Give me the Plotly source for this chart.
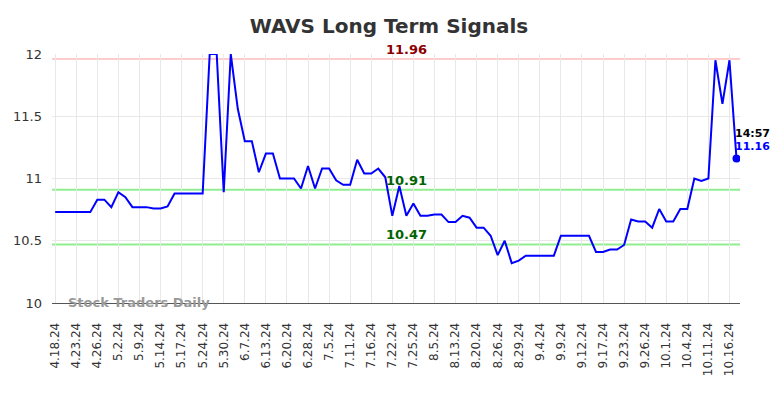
import plotly.graph_objects as go

tick_labels = ["4.18.24", "4.23.24", "4.26.24", "5.2.24", "5.9.24", "5.14.24", "5.17.24",
               "5.24.24", "5.30.24", "6.7.24", "6.13.24", "6.20.24", "6.28.24", "7.5.24",
               "7.11.24", "7.16.24", "7.22.24", "7.25.24", "8.5.24", "8.13.24", "8.20.24",
               "8.26.24", "8.29.24", "9.4.24", "9.9.24", "9.12.24", "9.17.24", "9.23.24",
               "9.26.24", "10.1.24", "10.4.24", "10.11.24", "10.16.24"]
tick_step = 3

values = [10.73, 10.73, 10.73, 10.73, 10.73, 10.73, 10.83, 10.83, 10.77, 10.89,
          10.85, 10.77, 10.77, 10.77, 10.76, 10.76, 10.775, 10.88, 10.88, 10.88,
          10.88, 10.88, 12.0, 12.0, 10.89, 12.0, 11.56, 11.30, 11.30, 11.05,
          11.20, 11.20, 11.00, 11.00, 11.00, 10.92, 11.10, 10.92, 11.08, 11.08,
          10.985, 10.95, 10.95, 11.15, 11.04, 11.04, 11.08, 11.01, 10.70, 10.94,
          10.70, 10.80, 10.70, 10.70, 10.71, 10.71, 10.65, 10.65, 10.70, 10.685,
          10.605, 10.605, 10.54, 10.385, 10.50, 10.32, 10.34, 10.38, 10.38, 10.38,
          10.38, 10.38, 10.54, 10.54, 10.54, 10.54, 10.54, 10.41, 10.41, 10.43,
          10.43, 10.466, 10.67, 10.655, 10.655, 10.605, 10.755, 10.655, 10.655, 10.755,
          10.755, 11.00, 10.98, 11.00, 11.95, 11.60, 11.95, 11.16]

resistance = 11.96
supports = [10.91, 10.47]
last_time = "14:57"
label_x = 50

x = list(range(len(values)))
tickvals = [i * tick_step for i in range(len(tick_labels))]

fig = go.Figure()
fig.add_trace(go.Scatter(x=x, y=values, mode="lines",
                         line=dict(color="#0000ff", width=2), hoverinfo="skip"))
fig.add_trace(go.Scatter(x=[x[-1]], y=[values[-1]], mode="markers",
                         marker=dict(color="#0000ff", size=8), hoverinfo="skip"))

fig.add_hline(y=resistance, line=dict(color="#ffcccc", width=2), layer="below")
for s in supports:
    fig.add_hline(y=s, line=dict(color="#90ee90", width=2), layer="below")

fig.add_annotation(x=label_x, y=resistance, text="<b>%.2f</b>" % resistance, showarrow=False,
                   yanchor="bottom", xanchor="center", yshift=0,
                   font=dict(color="#8b0000", size=13, family="DejaVu Sans"))
for s in supports:
    fig.add_annotation(x=label_x, y=s, text="<b>%.2f</b>" % s, showarrow=False,
                       yanchor="bottom", xanchor="center", yshift=0,
                       font=dict(color="#006400", size=13, family="DejaVu Sans"))

fig.add_annotation(x=x[-1], y=values[-1], text="<b>%s</b>" % last_time, showarrow=False,
                   xanchor="left", yanchor="bottom", yshift=17, xshift=-3,
                   font=dict(color="#000000", size=11, family="DejaVu Sans"))
fig.add_annotation(x=x[-1], y=values[-1], text="<b>%.2f</b>" % values[-1], showarrow=False,
                   xanchor="left", yanchor="bottom", yshift=4, xshift=-3,
                   font=dict(color="#0000ff", size=11, family="DejaVu Sans"))

fig.add_annotation(xref="paper", yref="paper", x=0.02, y=0.004, text="<b>Stock Traders Daily</b>",
                   showarrow=False, xanchor="left", yanchor="middle",
                   font=dict(color="#999999", size=13, family="DejaVu Sans"))

fig.update_layout(
    width=784, height=398,
    margin=dict(l=44, r=52, t=46, b=103, autoexpand=False),
    paper_bgcolor="white", plot_bgcolor="white",
    showlegend=False,
    title=dict(text="<b>WAVS Long Term Signals</b>", x=0.486, xanchor="center",
               yref="container", y=0.955, yanchor="middle",
               font=dict(size=20, color="#333333", family="DejaVu Sans")),
    font=dict(family="DejaVu Sans", color="#333333"),
)
fig.update_xaxes(range=[-0.45, 97.5], tickmode="array", tickvals=tickvals, ticktext=tick_labels,
                 tickangle=-90, tickfont=dict(size=12, color="#333333"), automargin=False,
                 showgrid=True, gridcolor="#e8e8e8", gridwidth=1, ticklabelstandoff=14,
                 showline=True, linecolor="#555555", linewidth=1, zeroline=False, ticks="")
fig.update_yaxes(range=[10, 12.0], tickvals=[10, 10.5, 11, 11.5, 12],
                 ticktext=["10", "10.5", "11", "11.5", "12"], automargin=False,
                 tickfont=dict(size=13, color="#333333"),
                 showgrid=True, gridcolor="#e8e8e8", gridwidth=1, zeroline=False,
                 showline=False, ticks="", ticklabelstandoff=9)

fig.write_html("out.html")
